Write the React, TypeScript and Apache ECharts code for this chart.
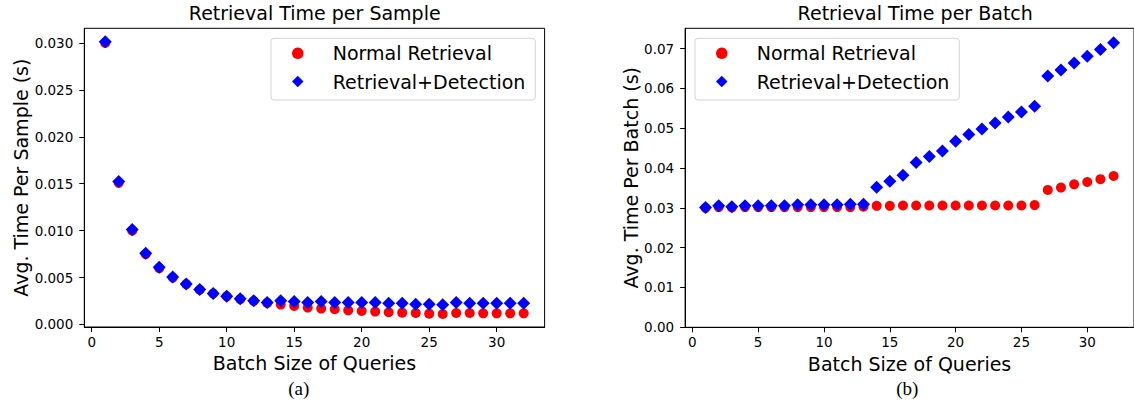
import React, { useEffect, useRef } from "react";
import * as echarts from "echarts";

const batchSizes = [1, 2, 3, 4, 5, 6, 7, 8, 9, 10, 11, 12, 13, 14, 15, 16, 17, 18, 19, 20, 21, 22, 23, 24, 25, 26, 27, 28, 29, 30, 31, 32];

const sampleNormal = [0.0300, 0.0151, 0.0100, 0.0075, 0.0060, 0.0050, 0.0043, 0.0037, 0.0033, 0.0030, 0.0027, 0.0025, 0.0023, 0.00212, 0.00198, 0.0018, 0.00169, 0.00162, 0.00151, 0.00144, 0.00137, 0.0013, 0.00126, 0.00122, 0.00115, 0.00112, 0.00122, 0.00122, 0.00119, 0.00119, 0.00119, 0.00119];
const sampleDetect = [0.03014, 0.01523, 0.01011, 0.00758, 0.00609, 0.00505, 0.00431, 0.00374, 0.00331, 0.00302, 0.00274, 0.00253, 0.00234, 0.00252, 0.00245, 0.00234, 0.00245, 0.00234, 0.00234, 0.00234, 0.00234, 0.00227, 0.00227, 0.00216, 0.00216, 0.00209, 0.00234, 0.00227, 0.00227, 0.00227, 0.00227, 0.00227];

const batchNormal = [0.0300, 0.0302, 0.0301, 0.0302, 0.0302, 0.0302, 0.0302, 0.0302, 0.0302, 0.0302, 0.0302, 0.0302, 0.0303, 0.0305, 0.0305, 0.0306, 0.0306, 0.0306, 0.0306, 0.0306, 0.0306, 0.0306, 0.0306, 0.0306, 0.0306, 0.0307, 0.0345, 0.0351, 0.0359, 0.0365, 0.0372, 0.0380];
const batchDetect = [0.0301, 0.0305, 0.0303, 0.0305, 0.0305, 0.0305, 0.0305, 0.0308, 0.0308, 0.0308, 0.0308, 0.0309, 0.0309, 0.0352, 0.0367, 0.0382, 0.0414, 0.0429, 0.0443, 0.0467, 0.0484, 0.0498, 0.0513, 0.0528, 0.0541, 0.0555, 0.0631, 0.0646, 0.0664, 0.0681, 0.0698, 0.0715];

const xTicks = [0, 5, 10, 15, 20, 25, 30];
const sampleTicks = [0, 0.005, 0.01, 0.015, 0.02, 0.025, 0.03];
const batchTicks = [0, 0.01, 0.02, 0.03, 0.04, 0.05, 0.06, 0.07];

const titles = ["Retrieval Time per Sample", "Retrieval Time per Batch"];
const yNames = ["Avg. Time Per Sample (s)", "Avg. Time Per Batch (s)"];
const xName = "Batch Size of Queries";
const captions = ["(a)", "(b)"];
const seriesNames = ["Normal Retrieval", "Retrieval+Detection"];

const FONT = "DejaVu Sans";

function pairs(ys: number[]) {
  return batchSizes.map((x, i) => [x, ys[i]]);
}

export default function App() {
  const ref = useRef<HTMLDivElement>(null);
  useEffect(() => {
    if (!ref.current) return;
    const chart = echarts.init(ref.current, null, { renderer: "svg" });
    const grids = [
      { left: 84.3, top: 28.3, width: 460.3, height: 298.7 },
      { left: 685.1, top: 28.3, width: 460.3, height: 299 },
    ];
    const xAxisBase = (gi: number) => ({
      type: "value",
      gridIndex: gi,
      min: -0.55,
      max: 33.55,
      name: xName,
      nameLocation: "middle",
      nameGap: 23,
      nameTextStyle: { fontFamily: FONT, fontSize: 19, color: "#000" },
      axisLine: { show: true, onZero: false, lineStyle: { color: "#000", width: 1 } },
      axisTick: { show: true, inside: false, length: 5, lineStyle: { color: "#000", width: 1 }, customValues: xTicks },
      axisLabel: { show: true, margin: 8, fontFamily: FONT, fontSize: 13.5, color: "#000", customValues: xTicks, formatter: (v: number) => String(v) },
      splitLine: { show: false },
    });
    const yAxisBase = (gi: number, min: number, max: number, ticks: number[], dec: number, gap: number) => ({
      type: "value",
      gridIndex: gi,
      min,
      max,
      name: yNames[gi],
      nameLocation: "middle",
      nameRotate: 90,
      nameGap: gap,
      nameTextStyle: { fontFamily: FONT, fontSize: 19, color: "#000" },
      axisLine: { show: true, onZero: false, lineStyle: { color: "#000", width: 1 } },
      axisTick: { show: true, inside: false, length: 5, lineStyle: { color: "#000", width: 1 }, customValues: ticks },
      axisLabel: { show: true, margin: 11, fontFamily: FONT, fontSize: 13.5, color: "#000", customValues: ticks, formatter: (v: number) => v.toFixed(dec) },
      splitLine: { show: false },
    });
    const legendLefts = [271, 695];
    const legendBoxes = legendLefts.map((l) => ({
      type: "rect",
      z: 3,
      shape: { x: l, y: 38.3, width: 264.3, height: 61.7, r: 3 },
      style: { fill: "#fff", stroke: "#d4d4d4", lineWidth: 1 },
    }));
    const option: any = {
      animation: false,
      backgroundColor: "#fff",
      grid: grids.map((g) => ({ ...g, show: true, borderColor: "#000", borderWidth: 1, backgroundColor: "transparent" })),
      xAxis: [xAxisBase(0), xAxisBase(1)],
      yAxis: [
        yAxisBase(0, -0.00027, 0.03157, sampleTicks, 3, 53),
        yAxisBase(1, 0, 0.0751, batchTicks, 2, 44.5),
      ],
      legend: legendLefts.map((l) => ({
        orient: "vertical",
        left: l + 21,
        top: 42.3,
        padding: 0,
        itemWidth: 11.5,
        itemHeight: 11.5,
        itemGap: 6.2,
        z: 5,
        symbolKeepAspect: true,
        textStyle: { fontFamily: FONT, fontSize: 19, color: "#000", lineHeight: 22, padding: [0, 0, 0, 24.2] },
        data: [
          { name: seriesNames[0], icon: "circle", itemStyle: { color: "#ff0000", opacity: 1 } },
          { name: seriesNames[1], icon: "diamond", itemStyle: { color: "#0000ff", opacity: 1 } },
        ],
      })),
      graphic: [
        ...legendBoxes,
        ...[314.7, 915.2].map((cx, i) => ({
          type: "text",
          x: cx,
          y: 13.4,
          style: { text: titles[i], font: `19px '${FONT}'`, fill: "#000", align: "center", verticalAlign: "middle" },
        })),
        ...[298.7, 907.3].map((cx, i) => ({
          type: "text",
          x: cx,
          y: 388,
          style: { text: captions[i], font: "19px 'Liberation Serif'", fill: "#000", align: "center", verticalAlign: "middle" },
        })),
      ],
      series: [
        { type: "scatter", name: seriesNames[0], xAxisIndex: 0, yAxisIndex: 0, symbol: "circle", symbolSize: 10, itemStyle: { color: "#ff0000", opacity: 1 }, data: pairs(sampleNormal), z: 2 },
        { type: "scatter", name: seriesNames[1], xAxisIndex: 0, yAxisIndex: 0, symbol: "diamond", symbolSize: 13, itemStyle: { color: "#0000ff", opacity: 1 }, data: pairs(sampleDetect), z: 2 },
        { type: "scatter", name: seriesNames[0], xAxisIndex: 1, yAxisIndex: 1, symbol: "circle", symbolSize: 10, itemStyle: { color: "#ff0000", opacity: 1 }, data: pairs(batchNormal), z: 2 },
        { type: "scatter", name: seriesNames[1], xAxisIndex: 1, yAxisIndex: 1, symbol: "diamond", symbolSize: 13, itemStyle: { color: "#0000ff", opacity: 1 }, data: pairs(batchDetect), z: 2 },
      ],
    };
    chart.setOption(option);
    return () => chart.dispose();
  }, []);
  return <div ref={ref} style={{ position: "absolute", left: 0, top: 0, width: 1134, height: 402 }} />;
}
